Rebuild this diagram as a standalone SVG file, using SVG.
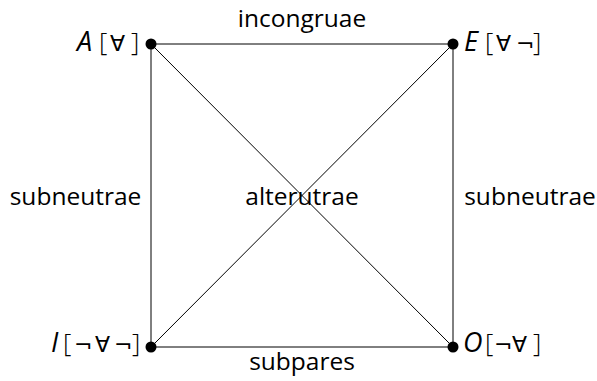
<svg xmlns="http://www.w3.org/2000/svg" width="597" height="381" viewBox="0 0 597 381">
<style>
text{font-family:"Open Sans","DejaVu Sans",sans-serif;font-size:24.5px;fill:#000}
.it{font-style:italic;font-size:27px}
.br{font-size:26px;font-weight:300}
.sym{font-family:"DejaVu Sans",sans-serif;font-size:22px}
line{stroke:#000;stroke-width:1}
circle{fill:#000}
</style>
<rect width="597" height="381" fill="#fff"/>
<g id="connectors">
<line x1="151" y1="44" x2="453" y2="44"/>
<line x1="151" y1="347" x2="453" y2="347"/>
<line x1="151" y1="44" x2="151" y2="347"/>
<line x1="453" y1="44" x2="453" y2="347"/>
<line x1="151" y1="44" x2="453" y2="347"/>
<line x1="453" y1="44" x2="151" y2="347"/>
</g>
<g id="A"><circle cx="151" cy="44" r="5.5"/><text y="51"><tspan class="it" x="77">A</tspan><tspan class="br" x="99">[</tspan><tspan class="sym" x="110">∀</tspan><tspan class="br" x="131">]</tspan></text></g>
<g id="E"><circle cx="453" cy="44" r="5.5"/><text y="51"><tspan class="it" x="464">E</tspan><tspan class="br" x="485">[</tspan><tspan class="sym" x="496">∀</tspan><tspan class="sym" x="516">¬</tspan><tspan class="br" x="533">]</tspan></text></g>
<g id="I"><circle cx="151" cy="347" r="5.5"/><text y="352"><tspan class="it" x="51">I</tspan><tspan class="br" x="63">[</tspan><tspan class="sym" x="74">¬</tspan><tspan class="sym" x="95">∀</tspan><tspan class="sym" x="114">¬</tspan><tspan class="br" x="132">]</tspan></text></g>
<g id="O"><circle cx="453" cy="347" r="5.5"/><text y="352"><tspan class="it" x="463">O</tspan><tspan class="br" x="485">[</tspan><tspan class="sym" x="494">¬</tspan><tspan class="sym" x="512">∀</tspan><tspan class="br" x="533">]</tspan></text></g>
<g id="labels">
<text x="302" y="27" text-anchor="middle">incongruae</text>
<text x="302" y="370" text-anchor="middle">subpares</text>
<text x="302" y="205" text-anchor="middle">alterutrae</text>
<text x="75.5" y="205" text-anchor="middle">subneutrae</text>
<text x="530" y="205" text-anchor="middle">subneutrae</text>
</g>
</svg>
